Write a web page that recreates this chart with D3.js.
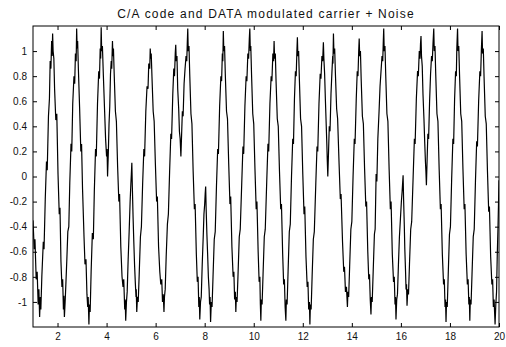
<!DOCTYPE html>
<html>
<head>
<meta charset="utf-8">
<script src="https://cdn.jsdelivr.net/npm/d3@7"></script>
<style>
  html, body { margin: 0; padding: 0; background: #fff; }
  svg { display: block; }
  text { font-family: "Liberation Sans", Arial, Helvetica, sans-serif; fill: #111; }
</style>
</head>
<body>
<svg id="chart" width="506" height="347"></svg>
<script>
const chartTitle = "C/A code and DATA modulated carrier + Noise";
const xTicks = [2, 4, 6, 8, 10, 12, 14, 16, 18, 20];
const yTicks = [-1, -0.8, -0.6, -0.4, -0.2, 0, 0.2, 0.4, 0.6, 0.8, 1];
const xDomain = [1, 20];
const yDomain = [-1.2, 1.2];

// [time, amplitude] samples
const carrierSamples = [
  [1.00,-0.35],[1.05,-0.58],[1.08,-0.50],[1.13,-0.82],[1.17,-0.76],[1.21,-1.02],[1.24,-0.90],[1.27,-1.12],
  [1.30,-0.96],[1.32,-1.06],[1.36,-0.80],[1.42,-0.52],[1.45,-0.58],[1.50,-0.18],[1.55,0.12],[1.58,0.05],[1.63,0.48],[1.67,0.62],[1.70,0.92],[1.73,0.86],[1.76,1.08],[1.78,0.96],[1.80,1.14],
  [1.82,1.00],[1.85,0.94],[1.88,0.70],[1.93,0.45],[1.97,0.50],[2.02,0.02],[2.07,-0.30],[2.10,-0.25],[2.14,-0.68],[2.18,-0.88],[2.21,-0.82],[2.24,-1.06],[2.26,-0.95],[2.28,-1.12],
  [2.31,-1.00],[2.34,-0.86],[2.38,-0.66],[2.42,-0.44],[2.46,-0.40],[2.50,-0.05],[2.55,0.26],[2.58,0.20],[2.62,0.58],[2.67,0.80],[2.70,0.74],[2.73,0.98],[2.76,0.92],[2.78,1.18],
  [2.80,1.02],[2.82,1.08],[2.85,0.86],[2.90,0.55],[2.95,0.20],[2.98,0.26],[3.02,-0.10],[3.08,-0.48],[3.12,-0.70],[3.16,-0.66],[3.20,-0.94],[3.23,-1.04],[3.25,-0.96],[3.28,-1.18],
  [3.30,-1.02],[3.33,-1.08],[3.37,-0.76],[3.42,-0.45],[3.46,-0.50],[3.50,-0.12],[3.55,0.22],[3.58,0.16],[3.63,0.58],[3.68,0.84],[3.71,0.78],[3.74,1.02],[3.76,0.94],[3.78,1.19],
  [3.80,1.00],[3.83,1.04],[3.87,0.80],[3.92,0.52],[3.96,0.30],[4.00,0.16],[4.02,0.22],[4.04,0.00],
  [4.07,0.18],[4.10,0.42],[4.13,0.56],[4.16,0.82],[4.19,0.92],[4.21,0.86],[4.24,1.08],
  [4.26,0.96],[4.28,1.02],[4.31,0.82],[4.36,0.52],[4.40,0.44],[4.45,0.08],[4.50,-0.20],[4.53,-0.14],[4.58,-0.56],[4.63,-0.80],[4.67,-0.88],[4.70,-0.82],[4.74,-1.06],[4.76,-0.98],[4.78,-1.15],
  [4.81,-1.00],[4.84,-0.92],[4.88,-0.66],[4.92,-0.44],[4.96,-0.20],[4.99,-0.06],[5.01,0.02],[5.03,0.11],
  [5.05,-0.08],[5.08,-0.32],[5.11,-0.52],[5.14,-0.70],[5.17,-0.84],[5.20,-0.96],[5.21,-0.90],[5.23,-1.08],
  [5.26,-0.96],[5.29,-1.00],[5.33,-0.78],[5.38,-0.48],[5.42,-0.40],[5.47,-0.06],[5.52,0.22],[5.55,0.16],[5.60,0.52],[5.65,0.72],[5.69,0.70],[5.72,0.90],[5.76,0.86],[5.78,1.02],[5.80,0.94],
  [5.82,0.98],[5.85,0.80],[5.90,0.52],[5.94,0.44],[5.99,0.10],[6.04,-0.20],[6.07,-0.16],[6.12,-0.56],[6.17,-0.76],[6.21,-0.86],[6.25,-0.82],[6.28,-1.00],[6.31,-0.94],[6.34,-1.08],
  [6.36,-0.96],[6.39,-0.90],[6.43,-0.64],[6.48,-0.38],[6.52,-0.30],[6.57,0.04],[6.62,0.34],[6.65,0.30],[6.70,0.66],[6.74,0.86],[6.77,0.80],[6.80,0.98],[6.82,1.05],
  [6.84,0.92],[6.87,0.96],[6.90,0.70],[6.94,0.54],[6.97,0.36],[7.00,0.30],[7.03,0.16],
  [7.06,0.34],[7.09,0.52],[7.12,0.48],[7.16,0.74],[7.20,0.86],[7.24,0.96],[7.27,0.92],[7.29,1.06],[7.31,1.18],
  [7.33,1.00],[7.36,1.04],[7.39,0.82],[7.44,0.50],[7.48,0.42],[7.53,0.04],[7.58,-0.26],[7.61,-0.22],[7.66,-0.62],[7.70,-0.84],[7.73,-0.80],[7.76,-1.04],[7.78,-0.96],[7.80,-1.14],
  [7.83,-1.00],[7.86,-0.96],[7.90,-0.70],[7.94,-0.48],[7.97,-0.30],[8.00,-0.22],[8.02,-0.14],[8.04,-0.08],
  [8.06,-0.26],[8.09,-0.46],[8.12,-0.62],[8.15,-0.80],[8.18,-0.90],[8.20,-1.02],[8.22,-0.96],[8.24,-1.16],
  [8.27,-1.00],[8.30,-1.04],[8.34,-0.80],[8.39,-0.50],[8.43,-0.44],[8.48,-0.08],[8.53,0.22],[8.56,0.18],[8.61,0.56],[8.66,0.80],[8.69,0.76],[8.72,0.98],[8.74,0.92],[8.76,1.16],
  [8.78,1.00],[8.81,1.04],[8.84,0.82],[8.89,0.52],[8.93,0.46],[8.98,0.10],[9.03,-0.22],[9.06,-0.16],[9.11,-0.56],[9.16,-0.80],[9.19,-0.76],[9.22,-0.98],[9.25,-0.92],[9.27,-1.08],
  [9.29,-0.96],[9.32,-1.00],[9.36,-0.78],[9.41,-0.48],[9.45,-0.42],[9.51,-0.06],[9.56,0.24],[9.59,0.18],[9.64,0.56],[9.69,0.80],[9.72,0.76],[9.76,0.98],[9.79,0.94],[9.82,1.10],[9.84,1.18],
  [9.86,1.00],[9.88,1.04],[9.91,0.82],[9.96,0.50],[10.00,0.42],[10.05,0.06],[10.10,-0.26],[10.13,-0.20],[10.18,-0.60],[10.22,-0.84],[10.25,-0.80],[10.27,-1.02],[10.29,-1.15],
  [10.31,-0.98],[10.34,-1.02],[10.38,-0.78],[10.43,-0.48],[10.47,-0.42],[10.53,-0.04],[10.58,0.26],[10.61,0.20],[10.66,0.58],[10.71,0.80],[10.74,0.76],[10.78,0.98],[10.81,0.92],[10.83,1.08],
  [10.85,0.94],[10.88,0.98],[10.91,0.76],[10.96,0.46],[11.00,0.40],[11.05,0.04],[11.10,-0.26],[11.13,-0.22],[11.18,-0.62],[11.22,-0.86],[11.25,-0.82],[11.28,-1.04],[11.31,-1.15],
  [11.33,-0.98],[11.36,-1.02],[11.40,-0.76],[11.45,-0.44],[11.49,-0.38],[11.54,0.00],[11.59,0.30],[11.62,0.26],[11.66,0.62],[11.70,0.84],[11.73,0.80],[11.76,1.00],[11.78,1.11],
  [11.80,0.96],[11.83,1.00],[11.86,0.78],[11.91,0.46],[11.95,0.40],[12.00,0.02],[12.05,-0.30],[12.08,-0.24],[12.13,-0.64],[12.18,-0.88],[12.21,-0.84],[12.24,-1.06],[12.27,-1.00],[12.29,-1.18],
  [12.31,-1.02],[12.34,-1.06],[12.38,-0.80],[12.43,-0.50],[12.47,-0.44],[12.53,-0.06],[12.58,0.24],[12.61,0.20],[12.66,0.58],[12.71,0.82],[12.74,0.78],[12.78,0.96],[12.81,0.92],[12.84,1.07],
  [12.86,0.94],[12.89,0.82],[12.92,0.62],[12.95,0.44],[12.98,0.26],[13.00,0.12],[13.02,0.00],
  [13.05,0.20],[13.08,0.40],[13.11,0.36],[13.15,0.66],[13.19,0.84],[13.22,0.96],[13.23,0.90],[13.25,1.14],
  [13.27,0.98],[13.30,1.02],[13.33,0.82],[13.38,0.54],[13.42,0.46],[13.48,0.10],[13.53,-0.18],[13.56,-0.14],[13.62,-0.52],[13.67,-0.76],[13.70,-0.72],[13.74,-0.92],[13.78,-0.88],[13.82,-1.04],
  [13.84,-0.92],[13.87,-0.96],[13.91,-0.72],[13.96,-0.42],[14.00,-0.36],[14.05,0.00],[14.10,0.30],[14.13,0.26],[14.18,0.62],[14.22,0.84],[14.25,0.80],[14.28,1.00],[14.30,1.10],
  [14.32,0.96],[14.35,1.00],[14.38,0.78],[14.43,0.48],[14.47,0.42],[14.52,0.06],[14.57,-0.24],[14.60,-0.20],[14.65,-0.60],[14.69,-0.82],[14.72,-0.78],[14.75,-0.98],[14.78,-1.10],
  [14.80,-0.96],[14.83,-1.00],[14.87,-0.76],[14.92,-0.46],[14.95,-0.42],[14.99,0.02],[15.02,-0.04],[15.06,0.30],[15.11,0.52],[15.15,0.72],[15.19,0.84],[15.23,0.96],[15.26,0.92],[15.28,1.06],[15.30,1.18],
  [15.32,1.00],[15.35,1.04],[15.38,0.82],[15.43,0.50],[15.47,0.44],[15.52,0.06],[15.57,-0.26],[15.60,-0.20],[15.65,-0.62],[15.70,-0.84],[15.73,-0.80],[15.76,-1.02],[15.78,-0.96],[15.80,-1.14],
  [15.83,-0.98],[15.86,-0.94],[15.90,-0.70],[15.94,-0.48],[15.98,-0.34],[16.02,-0.20],[16.05,-0.12],[16.09,0.01],
  [16.11,-0.18],[16.14,-0.40],[16.16,-0.58],[16.19,-0.76],[16.21,-0.90],[16.23,-0.86],[16.25,-1.03],
  [16.28,-0.90],[16.31,-0.94],[16.35,-0.70],[16.40,-0.42],[16.44,-0.36],[16.50,0.00],[16.55,0.30],[16.58,0.26],[16.63,0.62],[16.68,0.84],[16.71,0.80],[16.75,1.00],[16.78,0.94],[16.80,1.06],[16.82,1.12],
  [16.84,0.96],[16.87,0.88],[16.90,0.66],[16.94,0.46],[16.97,0.28],[17.00,0.12],[17.02,0.04],[17.04,-0.07],
  [17.07,0.14],[17.10,0.34],[17.13,0.30],[17.17,0.60],[17.21,0.82],[17.25,0.96],[17.28,0.92],[17.31,1.06],[17.34,1.18],
  [17.36,1.00],[17.39,1.04],[17.42,0.82],[17.47,0.50],[17.51,0.44],[17.56,0.06],[17.61,-0.26],[17.64,-0.22],[17.69,-0.62],[17.74,-0.86],[17.77,-0.82],[17.80,-1.04],[17.82,-0.98],[17.84,-1.16],
  [17.86,-1.00],[17.89,-1.04],[17.93,-0.78],[17.98,-0.46],[18.02,-0.40],[18.07,-0.02],[18.12,0.30],[18.15,0.26],[18.19,0.62],[18.23,0.84],[18.26,0.80],[18.28,1.02],[18.31,1.18],
  [18.33,1.00],[18.36,1.04],[18.39,0.82],[18.44,0.50],[18.48,0.44],[18.53,0.06],[18.58,-0.26],[18.61,-0.22],[18.66,-0.62],[18.71,-0.86],[18.74,-0.82],[18.77,-1.02],[18.79,-0.96],[18.81,-1.15],
  [18.83,-0.98],[18.86,-1.02],[18.90,-0.78],[18.95,-0.48],[18.99,-0.42],[19.04,-0.04],[19.09,0.28],[19.12,0.24],[19.17,0.60],[19.22,0.84],[19.25,0.80],[19.28,1.00],[19.31,1.16],
  [19.33,0.98],[19.36,1.02],[19.39,0.80],[19.44,0.48],[19.48,0.42],[19.53,0.04],[19.58,-0.28],[19.61,-0.24],[19.66,-0.64],[19.71,-0.86],[19.74,-0.82],[19.77,-1.04],[19.80,-0.98],[19.82,-1.08],[19.84,-1.18],
  [19.87,-1.02],[19.90,-0.92],[19.93,-0.62],[19.96,-0.40],[20.00,-0.03]
];

const svg = d3.select("#chart");
const plot = { left: 33, right: 499, top: 26, bottom: 327 };

const x = d3.scaleLinear().domain(xDomain).range([plot.left, plot.right]);
const y = d3.scaleLinear().domain(yDomain).range([plot.bottom, plot.top]);

svg.append("rect").attr("width", 506).attr("height", 347).attr("fill", "#fff");

svg.append("text")
  .attr("x", (plot.left + plot.right) / 2)
  .attr("y", 18)
  .attr("text-anchor", "middle")
  .style("font-size", "12px")
  .style("letter-spacing", "1.2px")
  .text(chartTitle);

svg.append("defs").append("clipPath").attr("id", "clip")
  .append("rect")
  .attr("x", plot.left).attr("y", plot.top)
  .attr("width", plot.right - plot.left).attr("height", plot.bottom - plot.top);

const line = d3.line().x(d => x(d[0])).y(d => y(d[1]));

svg.append("path")
  .datum(carrierSamples)
  .attr("clip-path", "url(#clip)")
  .attr("fill", "none")
  .attr("stroke", "#000")
  .attr("stroke-width", 1.2)
  .attr("stroke-linejoin", "miter")
  .attr("d", line);

const fmtY = d => (d === 0 ? "0" : String(d));

function styleAxis(g) {
  g.select(".domain").remove();
  g.selectAll("line").attr("stroke", "#000");
  g.selectAll("text").style("font-size", "10px").attr("fill", "#111");
}

svg.append("g").attr("transform", `translate(${plot.left},0)`)
  .call(d3.axisLeft(y).tickValues(yTicks).tickFormat(fmtY).tickSizeInner(-4).tickSizeOuter(0).tickPadding(6))
  .call(styleAxis);

svg.append("g").attr("transform", `translate(${plot.right},0)`)
  .call(d3.axisRight(y).tickValues(yTicks).tickFormat("").tickSizeInner(-4).tickSizeOuter(0))
  .call(styleAxis);

svg.append("g").attr("transform", `translate(0,${plot.bottom})`)
  .call(d3.axisBottom(x).tickValues(xTicks).tickFormat(d3.format("d")).tickSizeInner(-4).tickSizeOuter(0).tickPadding(6))
  .call(styleAxis);

svg.append("g").attr("transform", `translate(0,${plot.top})`)
  .call(d3.axisTop(x).tickValues(xTicks).tickFormat("").tickSizeInner(-4).tickSizeOuter(0))
  .call(styleAxis);

svg.append("rect")
  .attr("x", plot.left).attr("y", plot.top)
  .attr("width", plot.right - plot.left).attr("height", plot.bottom - plot.top)
  .attr("fill", "none").attr("stroke", "#000").attr("stroke-width", 1);
</script>
</body>
</html>
